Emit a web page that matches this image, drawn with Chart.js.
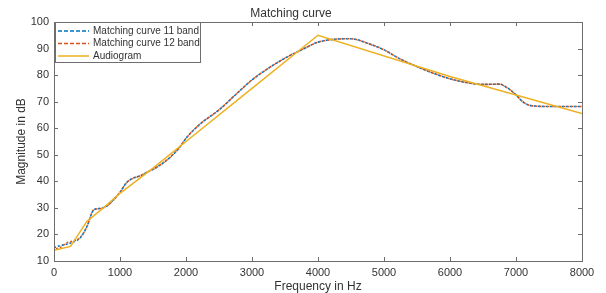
<!DOCTYPE html>
<html>
<head>
<meta charset="utf-8">
<script src="https://cdn.jsdelivr.net/npm/chart.js@4.4.1/dist/chart.umd.min.js"></script>
<style>
  html, body { margin: 0; padding: 0; background: #fff; }
  #wrap { width: 606px; height: 293px; }
</style>
</head>
<body>
<div id="wrap"><canvas id="chart"></canvas></div>
<script>
// matching curves are sampled on a finer grid than the audiogram
const curveFreqs = [0, 100, 200, 300, 400, 500, 600, 700, 800, 900, 1000, 1100, 1200, 1300, 1400, 1500,
  1600, 1700, 1800, 1900, 2000, 2200, 2500, 2750, 3000, 3250, 3500, 3750, 4000, 4250, 4500, 4750,
  5000, 5250, 5500, 5750, 6000, 6250, 6500, 6750, 6850, 7000, 7100, 7250, 7500, 8000];
const band11 = [15.1, 15.8, 16.4, 17.2, 18.8, 23, 29.2, 29.8, 30.7, 33, 35.9, 39.5, 41.2, 42, 43.3, 44.5,
  46, 47.8, 50, 52.7, 56.2, 61.3, 66.9, 72.6, 78.2, 82.6, 86.4, 89.5, 92.4, 93.5, 93.7, 92,
  89.5, 86, 83.2, 80.7, 78.6, 77.2, 76.5, 76.6, 75.5, 72.6, 70, 68.4, 68.2, 68.2];
const band12 = [14.5, 15.2, 16.9, 17.6, 18.9, 23, 29.2, 29.8, 30.7, 33, 35.9, 39.5, 41.2, 42, 43.3, 44.5,
  46, 47.8, 50, 52.7, 56.2, 61.3, 66.9, 72.6, 78.2, 82.6, 86.4, 89.5, 92.4, 93.5, 93.7, 92,
  89.5, 86, 83.2, 80.7, 78.6, 77.2, 76.5, 76.6, 75.5, 72.6, 70, 68.4, 68.2, 68.2];
const audioFreqs = [0, 250, 500, 750, 1000, 1500, 2000, 3000, 4000, 6000, 8000];
const audiogram = [14, 15.5, 25, 30, 35.5, 45, 55, 75, 95, 79.5, 65.5];
const xTicks = [0, 1000, 2000, 3000, 4000, 5000, 6000, 7000, 8000];
const yTicks = [10, 20, 30, 40, 50, 60, 70, 80, 90, 100];

const textColor = '#333';
const axisColor = '#6e6e6e';
const fontFamily = '"Liberation Sans", Arial, Helvetica, sans-serif';

const toPoints = (xs, ys) => xs.map((x, i) => ({ x, y: ys[i] }));

// Matlab-style box with inward ticks on all four sides
const boxAxes = {
  id: 'boxAxes',
  afterDatasetsDraw(chart) {
    const { ctx, chartArea: a, scales: { x, y } } = chart;
    const len = 4;
    ctx.save();
    ctx.strokeStyle = axisColor;
    ctx.lineWidth = 1;
    ctx.strokeRect(Math.round(a.left) + 0.5, Math.round(a.top) + 0.5,
      Math.round(a.right - a.left), Math.round(a.bottom - a.top));
    ctx.beginPath();
    xTicks.forEach((t) => {
      const px = Math.round(x.getPixelForValue(t)) + 0.5;
      ctx.moveTo(px, a.bottom); ctx.lineTo(px, a.bottom - len);
      ctx.moveTo(px, a.top); ctx.lineTo(px, a.top + len);
    });
    yTicks.forEach((t) => {
      const py = Math.round(y.getPixelForValue(t)) + 0.5;
      ctx.moveTo(a.left, py); ctx.lineTo(a.left + len, py);
      ctx.moveTo(a.right, py); ctx.lineTo(a.right - len, py);
    });
    ctx.stroke();
    ctx.restore();
  },
  afterDraw(chart) {
    // legend box in the upper left corner of the axes
    const { ctx, chartArea: a } = chart;
    const bx = a.left + 1, by = a.top, bw = 145, bh = 40;
    ctx.save();
    ctx.fillStyle = '#fff';
    ctx.fillRect(bx, by, bw, bh);
    ctx.strokeStyle = axisColor;
    ctx.strokeRect(bx + 0.5, by + 0.5, bw, bh);
    ctx.font = '10px ' + fontFamily;
    ctx.textBaseline = 'middle';
    [0, 1, 2].forEach((i) => {
      const ds = chart.data.datasets[i];
      const ry = by + 9 + i * 12.5;
      ctx.beginPath();
      ctx.strokeStyle = ds.borderColor;
      ctx.lineWidth = 1.5;
      ctx.setLineDash(ds.borderDash ? [4, 2] : []);
      ctx.moveTo(bx + 3, ry); ctx.lineTo(bx + 34, ry);
      ctx.stroke();
      ctx.setLineDash([]);
      ctx.fillStyle = textColor;
      ctx.fillText(ds.label, bx + 38, ry);
    });
    ctx.restore();
  },
};

new Chart(document.getElementById('chart'), {
  type: 'line',
  data: {
    datasets: [{
      label: 'Matching curve 11 band',
      data: toPoints(curveFreqs, band11),
      borderColor: '#0072BD',
      borderWidth: 1.6,
      borderDash: [2, 2],
      cubicInterpolationMode: 'monotone',
      pointRadius: 0,
      order: 2,
    }, {
      label: 'Matching curve 12 band',
      data: toPoints(curveFreqs, band12),
      borderColor: '#D95319',
      borderWidth: 1.6,
      borderDash: [2, 2],
      borderDashOffset: 2,
      cubicInterpolationMode: 'monotone',
      pointRadius: 0,
      order: 1,
    }, {
      label: 'Audiogram',
      data: toPoints(audioFreqs, audiogram),
      borderColor: '#EDB120',
      borderWidth: 1.5,
      tension: 0,
      pointRadius: 0,
      order: 0,
    }],
  },
  options: {
    responsive: true,
    maintainAspectRatio: false,
    animation: false,
    layout: { padding: { left: 0, right: 24, top: 0, bottom: 0 } },
    plugins: {
      legend: { display: false },
      tooltip: { enabled: false },
      title: {
        display: true,
        text: 'Matching curve',
        color: textColor,
        font: { family: fontFamily, size: 12, weight: 'normal' },
        padding: { top: 6, bottom: 1.6 },
      },
    },
    scales: {
      x: {
        type: 'linear',
        min: 0,
        max: 8000,
        afterFit(s) { s.height = 32; },
        afterBuildTicks(s) { s.ticks = xTicks.map(v => ({ value: v })); },
        grid: { display: false, drawTicks: false },
        border: { display: false },
        ticks: {
          color: textColor,
          padding: 5,
          maxRotation: 0,
          font: { family: fontFamily, size: 11 },
          callback: v => String(v),
        },
        title: {
          display: true,
          text: 'Frequency in Hz',
          color: textColor,
          font: { family: fontFamily, size: 12, lineHeight: 1 },
          padding: { top: 0, bottom: 0 },
        },
      },
      y: {
        min: 10,
        max: 100,
        afterFit(s) { s.width = 54; },
        afterBuildTicks(s) { s.ticks = yTicks.map(v => ({ value: v })); },
        grid: { display: false, drawTicks: false },
        border: { display: false },
        ticks: { color: textColor, padding: 5, font: { family: fontFamily, size: 11 }, callback: v => String(v) },
        title: {
          display: true,
          text: 'Magnitude in dB',
          color: textColor,
          font: { family: fontFamily, size: 12 },
          padding: { top: 14, bottom: 0 },
        },
      },
    },
  },
  plugins: [boxAxes],
});
</script>
</body>
</html>
